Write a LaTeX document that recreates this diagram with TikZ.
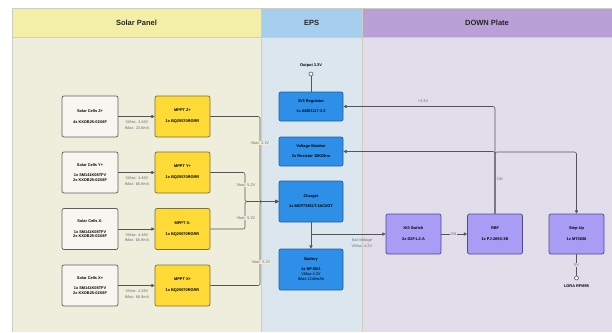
\documentclass[tikz,border=0pt]{standalone}
\usepackage{fontspec}
\setmainfont{Liberation Sans}
\usetikzlibrary{arrows.meta}
\definecolor{solH}{HTML}{F3EFA8}
\definecolor{solB}{HTML}{EFEEDD}
\definecolor{epsH}{HTML}{A6CEEF}
\definecolor{epsB}{HTML}{DCE6EF}
\definecolor{dnH}{HTML}{B9A1D8}
\definecolor{dnB}{HTML}{E1DDEA}
\definecolor{laneLine}{HTML}{CFCCC4}
\definecolor{cellF}{HTML}{F8F6F1}
\definecolor{cellD}{HTML}{5E5E5E}
\definecolor{mpF}{HTML}{FDDA35}
\definecolor{mpD}{HTML}{7F7135}
\definecolor{epF}{HTML}{2E8FE8}
\definecolor{epD}{HTML}{1F5E9E}
\definecolor{puF}{HTML}{A99CF5}
\definecolor{puD}{HTML}{51488F}
\definecolor{wire}{HTML}{555555}
\definecolor{lblC}{HTML}{6E6E6E}
\newcommand\nf{\fontsize{3.9}{4.5}\selectfont}
\begin{document}
\begin{tikzpicture}[x=1pt,y=-1pt,
  box/.style={rectangle, rounded corners=2pt, line width=0.7pt, align=center, font=\nf\bfseries, inner sep=1pt},
  cell/.style={box, draw=cellD, fill=cellF, minimum width=56pt, minimum height=41pt},
  mppt/.style={box, draw=mpD, fill=mpF, minimum width=55pt, minimum height=41pt},
  eps/.style={box, draw=epD, fill=epF, minimum width=64pt},
  pur/.style={box, draw=puD, fill=puF, minimum width=55pt, minimum height=40pt},
  conn/.style={draw=wire, line width=0.6pt, rounded corners=2pt, -{Triangle[length=3.2pt,width=3.2pt]}},
  wl/.style={draw=wire, line width=0.6pt, rounded corners=2pt},
  lbl/.style={font=\nf, text=lblC, inner sep=0.6pt, align=center},
  ttl/.style={font=\fontsize{7.5}{9}\selectfont\bfseries, text=black!85}
]
\useasboundingbox (0,0) rectangle (612,332);
\fill[white] (0,0) rectangle (612,332);
% lanes
\fill[solB] (12,37) rectangle (261,332);
\fill[epsB] (261,37) rectangle (362,332);
\fill[dnB] (362,37) rectangle (612,332);
\fill[solH] (12,8) rectangle (261,37);
\fill[epsH] (261,8) rectangle (362,37);
\fill[dnH] (362,8) rectangle (612,37);
\draw[laneLine, line width=0.6pt] (12,332) -- (12,8) -- (612,8);
\draw[laneLine, line width=0.6pt] (12,37) -- (612,37);
\draw[laneLine, line width=0.6pt] (261,8) -- (261,332);
\draw[laneLine, line width=0.6pt] (362,8) -- (362,332);
\node[ttl] (tsol) at (136.5,22.5) {Solar Panel};
\node[ttl] (teps) at (311.5,22.5) {EPS};
\node[ttl] (tdn) at (487,22.5) {DOWN Plate};

% solar cells
\node[cell] (sz) at (90,116.5) {Solar Cells Z+\\[6.5pt]4x KXOB25-02X8F};
\node[cell] (sy) at (90,172.5) {Solar Cells Y+\\[6pt]1x SM141K08TFV\\2x KXOB25-02X8F};
\node[cell] (sxm) at (90,229) {Solar Cells X-\\[6pt]1x SM141K08TFV\\2x KXOB25-02X8F};
\node[cell] (sxp) at (90,285.5) {Solar Cells X+\\[6pt]1x SM141K08TFV\\2x KXOB25-02X8F};
% mppt
\node[mppt] (mz) at (182.5,116.5) {MPPT Z+\\[6.5pt]1x BQ25570RGRR};
\node[mppt] (my) at (182.5,172.5) {MPPT Y+\\[6.5pt]1x BQ25570RGRR};
\node[mppt] (mxm) at (182.5,229) {MPPT X-\\[6.5pt]1x BQ25570RGRR};
\node[mppt] (mxp) at (182.5,285.5) {MPPT X+\\[6.5pt]1x BQ25570RGRR};
% eps
\node[eps, minimum height=29pt] (reg) at (311,106.5) {3V3 Regulator\\[5.5pt]1x AMS1117-3.3};
\node[eps, minimum height=29pt] (vm) at (311,151.5) {Voltage Monitor\\[5.5pt]2x Resistor 10KOhm};
\node[eps, minimum height=41pt] (ch) at (311,201.5) {Charger\\[5.5pt]1x MCP73831T-2ACI/OT};
\node[eps, minimum height=41pt] (bat) at (311,269.5) {Battery\\[5pt]1x NP-BX1\\[0.6pt]\mdseries VMax:4.2V\\[0.6pt]\mdseries IMax:1240mAh};
% down plate
\node[pur] (ks) at (413.5,234) {Kill Switch\\[6.5pt]2x D2F-L2-A};
\node[pur] (rbf) at (495,234) {RBF\\[6.5pt]1x PJ-209X-3B};
\node[pur] (su) at (576.5,234) {Step-Up\\[6.5pt]1x MT3608};

% solar -> mppt
\foreach \s/\m in {sz/mz, sy/my, sxm/mxm, sxp/mxp}{
  \draw[conn] (\s) -- (\m);
}
\node[lbl] (lz) at (137,125) {VMax: 4.46V\\[1pt]IMax: 23.6mA};
\node[lbl] (ly) at (137,181) {VMax: 4.46V\\[1pt]IMax: 66.9mA};
\node[lbl] (lxm) at (137,237.5) {VMax: 4.46V\\[1pt]IMax: 66.9mA};
\node[lbl] (lxp) at (137,294) {VMax: 4.46V\\[1pt]IMax: 66.9mA};

% bus to charger
\coordinate (j1) at (260,201.5);
\coordinate (j2) at (245,201.5);
\draw[conn] (mz.east) -| (j1) -- (ch.west);
\draw[conn] (mxp.east) -| (j1) -- (ch.west);
\draw[conn] (my.east) -| (j2) -- (ch.west);
\draw[conn] (mxm.east) -| (j2) -- (ch.west);
\node[lbl, fill=solB] (vb1) at (260,143) {Vbat: 5.2V};
\node[lbl, fill=solB] (vb2) at (246,185) {Vbat: 5.2V};
\node[lbl, fill=solB] (vb3) at (246,218) {Vbat: 5.2V};
\node[lbl, fill=solB] (vb4) at (261,262) {Vbat: 5.2V};

% output 3.3V
\node[circle, draw=wire, fill=white, line width=0.6pt, minimum size=4pt, inner sep=0pt] (o33) at (311,74) {};
\node[font=\nf\bfseries, inner sep=0.5pt] (o33t) at (311,66) {Output 3.3V};
\draw[wl] (o33) -- (reg.north);

% charger -> battery, kill switch
\coordinate (cb) at (311,234);
\draw[conn] (ch.south) -- (bat.north);
\draw[conn] (cb) -- (ks.west);
\node[lbl] (bv) at (362,243) {Bat Voltage\\[1pt]VMax: 4.2V};

% kill -> rbf
\draw[conn] (ks.east) -- (rbf.west);
\node[lbl, fill=dnB] (on1) at (453.5,234) {ON};

% rbf -> reg, vm, step-up
\draw[conn] (rbf.north) |- (reg.east);
\draw[conn] (rbf.north) |- (vm.east);
\draw[conn] (rbf.north) -- (495,152) -| (su.north);
\node[lbl] (p33) at (423,101) {+3.3V};
\node[lbl, anchor=west] (on2) at (496,179) {ON};

% step-up -> LoRa
\node[circle, draw=wire, fill=white, line width=0.6pt, minimum size=4pt, inner sep=0pt] (lora) at (576.5,278) {};
\draw[wl] (su.south) -- (lora);
\node[lbl, fill=dnB] (v5) at (576.5,265) {5V};
\node[font=\nf\bfseries, inner sep=0.5pt] (lorat) at (576.5,286) {LORA RFM95};
\end{tikzpicture}
\end{document}
